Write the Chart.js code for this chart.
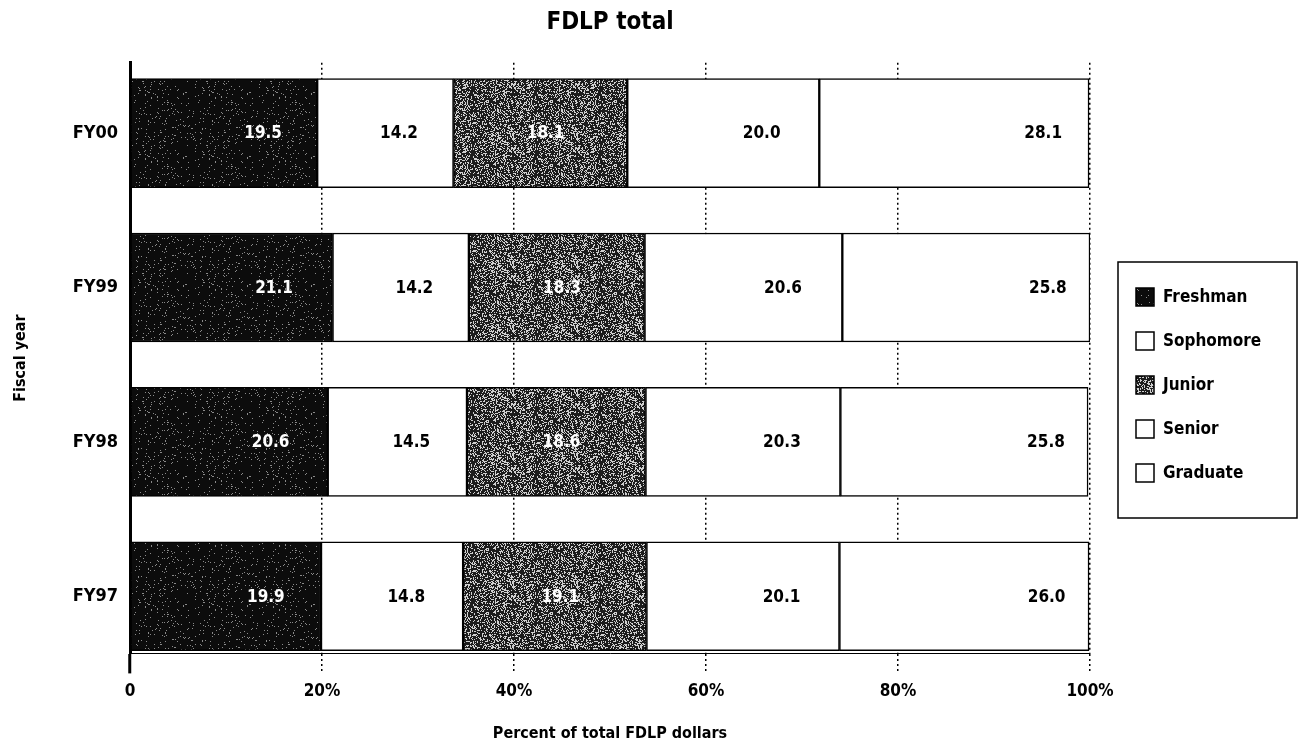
<!DOCTYPE html>
<html>
<head>
<meta charset="utf-8">
<title>FDLP total</title>
<script src="https://cdn.jsdelivr.net/npm/chart.js@4.4.1/dist/chart.umd.min.js"></script>
<style>
    html, body { margin: 0; padding: 0; background: #fff; }
</style>
</head>
<body>
<canvas id="fdlpChart" width="1302" height="743"></canvas>
<script>
const years = ['FY00', 'FY99', 'FY98', 'FY97'];
const freshman = [19.5, 21.1, 20.6, 19.9];
const sophomore = [14.2, 14.2, 14.5, 14.8];
const junior = [18.1, 18.3, 18.6, 19.1];
const senior = [20.0, 20.6, 20.3, 20.1];
const graduate = [28.1, 25.8, 25.8, 26.0];
const xTicks = [0, 20, 40, 60, 80, 100];

const FONT = "'Liberation Sans Narrow', 'DejaVu Sans Condensed', sans-serif";

// speckled fill like the scanned original (deterministic hash, not data)
function speckle(base, dot, density) {
    const c = document.createElement('canvas');
    c.width = 64;
    c.height = 64;
    const g = c.getContext('2d');
    g.fillStyle = base;
    g.fillRect(0, 0, 64, 64);
    g.fillStyle = dot;
    for (let y = 0; y < 64; y++) {
        for (let x = 0; x < 64; x++) {
            const h = Math.abs(Math.sin(x * 12.9898 + y * 78.233) * 43758.5453) % 1;
            if (h < density) g.fillRect(x, y, 1, 1);
        }
    }
    return g.createPattern(c, 'repeat');
}

function toPoints(values) {
    return values.map((v, i) => ({x: v, y: i}));
}

function makeDataset(label, values, fill, textColor, labelPos) {
    return {
        label: label,
        data: toPoints(values),
        backgroundColor: fill,
        borderColor: '#000',
        borderWidth: 1.5,
        borderSkipped: false,
        barThickness: 109,
        textColor: textColor,
        labelPos: labelPos
    };
}

const valueLabels = {
    id: 'valueLabels',
    afterDatasetsDraw(chart) {
        const ctx = chart.ctx;
        ctx.save();
        ctx.font = `bold 17px ${FONT}`;
        ctx.textAlign = 'center';
        ctx.textBaseline = 'middle';
        chart.data.datasets.forEach((ds, i) => {
            chart.getDatasetMeta(i).data.forEach((bar, j) => {
                const start = bar.base;
                const x = start + (bar.x - start) * ds.labelPos;
                ctx.fillStyle = ds.textColor;
                ctx.fillText(ds.data[j].x.toFixed(1), x, bar.y + 1);
            });
        });
        ctx.restore();
    }
};

const boxLegend = {
    id: 'boxLegend',
    afterDraw(chart) {
        const ctx = chart.ctx;
        const left = chart.chartArea.right + 28;
        const top = 262;
        ctx.save();
        ctx.lineWidth = 1.5;
        ctx.strokeStyle = '#000';
        ctx.strokeRect(left, top, 179, 256);
        ctx.font = `bold 17px ${FONT}`;
        ctx.textAlign = 'left';
        ctx.textBaseline = 'middle';
        chart.data.datasets.forEach((ds, i) => {
            const y = top + 35 + i * 44;
            ctx.fillStyle = ds.backgroundColor;
            ctx.fillRect(left + 18, y - 9, 18, 18);
            ctx.strokeRect(left + 18, y - 9, 18, 18);
            ctx.fillStyle = '#000';
            ctx.fillText(ds.label, left + 45, y + 1);
        });
        ctx.restore();
    }
};

function setupChart() {
    const ctx = document.getElementById('fdlpChart');
    const black = speckle('#0c0c0c', '#8a8a8a', 0.04);
    const gray = speckle('#1c1c1c', '#d0d0d0', 0.3);

    return new Chart(ctx, {
        type: 'bar',
        data: {
            datasets: [
                makeDataset('Freshman', freshman, black, '#fff', 0.71),
                makeDataset('Sophomore', sophomore, '#fff', '#000', 0.6),
                makeDataset('Junior', junior, gray, '#fff', 0.53),
                makeDataset('Senior', senior, '#fff', '#000', 0.7),
                makeDataset('Graduate', graduate, '#fff', '#000', 0.83)
            ]
        },
        options: {
            indexAxis: 'y',
            responsive: false,
            animation: false,
            layout: {
                padding: {left: 11, right: 212, top: 0, bottom: 0}
            },
            scales: {
                x: {
                    stacked: true,
                    min: 0,
                    max: 100,
                    afterBuildTicks: (scale) => {
                        scale.ticks = xTicks.map((v) => ({value: v}));
                    },
                    grid: {
                        color: (c) => c.index === 0 ? 'rgba(0,0,0,0)' : '#000',
                        lineWidth: 1.5,
                        tickLength: 20,
                        tickColor: '#000',
                        tickWidth: (c) => c.index === 0 ? 3 : 1.5,
                        tickBorderDash: (c) => c.index === 0 ? [] : [2, 3]
                    },
                    border: {
                        display: true,
                        color: '#000',
                        width: 1,
                        dash: [2, 3]
                    },
                    ticks: {
                        color: '#000',
                        padding: 8,
                        font: {family: FONT, size: 17, weight: 'bold'},
                        callback: (v) => v === 0 ? '0' : v + '%'
                    },
                    title: {
                        display: true,
                        text: 'Percent of total FDLP dollars',
                        color: '#000',
                        padding: {top: 14, bottom: 0},
                        font: {family: FONT, size: 16, weight: 'bold'}
                    }
                },
                y: {
                    type: 'linear',
                    stacked: true,
                    reverse: true,
                    offset: false,
                    min: -0.455,
                    max: 3.37,
                    afterBuildTicks: (scale) => {
                        scale.ticks = years.map((_, i) => ({value: i}));
                    },
                    afterFit: (scale) => {
                        scale.width = 119;
                    },
                    grid: {display: false, drawTicks: false, offset: false},
                    border: {display: true, color: '#000', width: 3},
                    ticks: {
                        color: '#000',
                        padding: 12,
                        font: {family: FONT, size: 18, weight: 'bold'},
                        callback: (v) => years[v]
                    },
                    title: {
                        display: true,
                        text: 'Fiscal year',
                        color: '#000',
                        padding: {top: 0, bottom: 0},
                        font: {family: FONT, size: 16, weight: 'bold'}
                    }
                }
            },
            plugins: {
                legend: {display: false},
                tooltip: {enabled: false},
                title: {
                    display: true,
                    text: 'FDLP total',
                    color: '#000',
                    fullSize: false,
                    padding: {top: 8, bottom: 26},
                    font: {family: FONT, size: 24, weight: 'bold'}
                }
            }
        },
        plugins: [valueLabels, boxLegend]
    });
}

setupChart();
</script>
</body>
</html>
